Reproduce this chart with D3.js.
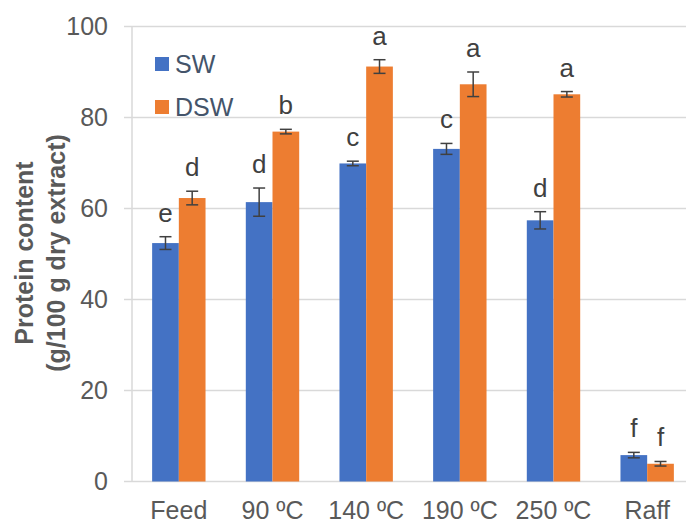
<!DOCTYPE html>
<html>
<head>
<meta charset="utf-8">
<script src="https://cdn.jsdelivr.net/npm/d3@7"></script>
<style>
  body { margin: 0; background: #fff; }
  text { font-family: "Liberation Sans", Arial, sans-serif; }
</style>
</head>
<body>
<div id="chart"></div>
<script>
// data
var categories = ["Feed", "90 ºC", "140 ºC", "190 ºC", "250 ºC", "Raff"];
var series = ["SW", "DSW"];
var swValues = [52.4, 61.4, 69.9, 73.1, 57.4, 5.8];
var swErrors = [1.4, 3.1, 0.5, 1.2, 1.9, 0.6];
var swLetters = ["e", "d", "c", "c", "d", "f"];
var dswValues = [62.3, 76.9, 91.2, 87.3, 85.1, 3.9];
var dswErrors = [1.5, 0.5, 1.5, 2.7, 0.6, 0.5];
var dswLetters = ["d", "b", "a", "a", "a", "f"];
var yTicks = [0, 20, 40, 60, 80, 100];

var colors = {SW: "#4472C4", DSW: "#ED7D31"};

var width = 686, height = 524;

var svg = d3.select("#chart").append("svg")
    .attr("width", width)
    .attr("height", height);

// set the ranges
var x = d3.scaleBand().domain(categories)
    .range([132, 694])
    .paddingInner(0.43)
    .paddingOuter(0.215);
var xSub = d3.scaleBand().domain(series).range([0, x.bandwidth()]);
var y = d3.scaleLinear().domain([0, 100]).range([481.5, 26.5]);

// gridlines
svg.append("g").selectAll("line")
    .data(yTicks)
    .enter().append("line")
    .attr("x1", 124).attr("x2", width)
    .attr("y1", function(d) { return y(d); })
    .attr("y2", function(d) { return y(d); })
    .attr("stroke", "#D9D9D9")
    .attr("stroke-width", 1.5);

// left axis line
svg.append("line")
    .attr("x1", 132).attr("x2", 132)
    .attr("y1", y(100)).attr("y2", y(0))
    .attr("stroke", "#D9D9D9")
    .attr("stroke-width", 1.5);

// y tick labels
svg.append("g").selectAll("text")
    .data(yTicks)
    .enter().append("text")
    .attr("x", 108)
    .attr("y", function(d) { return y(d); })
    .attr("dy", "0.35em")
    .attr("text-anchor", "end")
    .attr("fill", "#595959")
    .style("font-size", "25px")
    .text(function(d) { return d; });

// category labels
svg.append("g").selectAll("text")
    .data(categories)
    .enter().append("text")
    .attr("x", function(d) { return x(d) + x.bandwidth() / 2; })
    .attr("y", 519)
    .attr("text-anchor", "middle")
    .attr("fill", "#595959")
    .style("font-size", "25px")
    .text(function(d) { return d; });

// build rows for the bars
var rows = [];
categories.forEach(function(c, i) {
    rows.push({cat: c, s: "SW", v: swValues[i], e: swErrors[i], l: swLetters[i]});
    rows.push({cat: c, s: "DSW", v: dswValues[i], e: dswErrors[i], l: dswLetters[i]});
});

// bars
svg.append("g").selectAll("rect")
    .data(rows)
    .enter().append("rect")
    .attr("x", function(d) { return x(d.cat) + xSub(d.s); })
    .attr("y", function(d) { return y(d.v); })
    .attr("width", xSub.bandwidth())
    .attr("height", function(d) { return y(0) - y(d.v); })
    .attr("fill", function(d) { return colors[d.s]; });

// error bars
var err = svg.append("g").selectAll("g")
    .data(rows)
    .enter().append("g")
    .attr("stroke", "#404040")
    .attr("stroke-width", 1.5);

err.append("line")
    .attr("x1", function(d) { return x(d.cat) + xSub(d.s) + xSub.bandwidth() / 2; })
    .attr("x2", function(d) { return x(d.cat) + xSub(d.s) + xSub.bandwidth() / 2; })
    .attr("y1", function(d) { return y(d.v + d.e); })
    .attr("y2", function(d) { return y(d.v - d.e); });
err.append("line")
    .attr("x1", function(d) { return x(d.cat) + xSub(d.s) + xSub.bandwidth() / 2 - 6; })
    .attr("x2", function(d) { return x(d.cat) + xSub(d.s) + xSub.bandwidth() / 2 + 6; })
    .attr("y1", function(d) { return y(d.v + d.e); })
    .attr("y2", function(d) { return y(d.v + d.e); });
err.append("line")
    .attr("x1", function(d) { return x(d.cat) + xSub(d.s) + xSub.bandwidth() / 2 - 6; })
    .attr("x2", function(d) { return x(d.cat) + xSub(d.s) + xSub.bandwidth() / 2 + 6; })
    .attr("y1", function(d) { return y(d.v - d.e); })
    .attr("y2", function(d) { return y(d.v - d.e); });

// significance letters
svg.append("g").selectAll("text")
    .data(rows)
    .enter().append("text")
    .attr("x", function(d) { return x(d.cat) + xSub(d.s) + xSub.bandwidth() / 2; })
    .attr("y", function(d) { return y(d.v + d.e) - 15; })
    .attr("text-anchor", "middle")
    .attr("fill", "#404040")
    .style("font-size", "26px")
    .text(function(d) { return d.l; });

// legend
var legend = svg.append("g").selectAll("g")
    .data(series)
    .enter().append("g")
    .attr("transform", function(d, i) { return "translate(155," + (57 + i * 43) + ")"; });
legend.append("rect")
    .attr("width", 14).attr("height", 14)
    .attr("fill", function(d) { return colors[d]; });
legend.append("text")
    .attr("x", 20).attr("y", 7)
    .attr("dy", "0.35em")
    .attr("fill", "#44546A")
    .style("font-size", "25px")
    .text(function(d) { return d; });

// y axis title
svg.append("text")
    .attr("transform", "translate(33,253) rotate(-90)")
    .attr("text-anchor", "middle")
    .attr("fill", "#595959")
    .style("font-size", "25px")
    .style("font-weight", "bold")
    .text("Protein content");
svg.append("text")
    .attr("transform", "translate(65,253) rotate(-90)")
    .attr("text-anchor", "middle")
    .attr("fill", "#595959")
    .style("font-size", "25px")
    .style("font-weight", "bold")
    .text("(g/100 g dry extract)");
</script>
</body>
</html>
